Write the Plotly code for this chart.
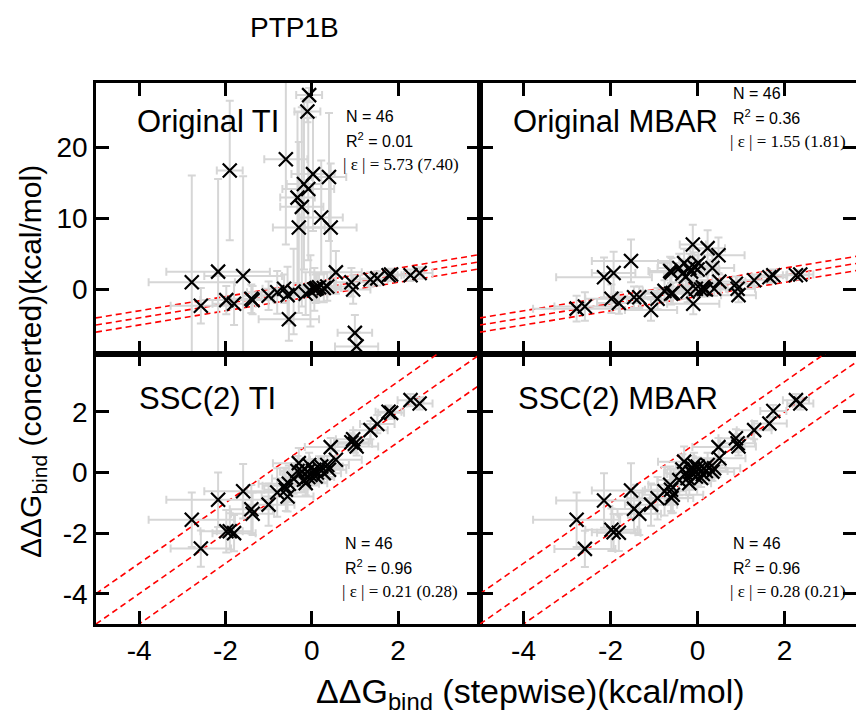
import plotly.graph_objects as go
from plotly.subplots import make_subplots

# ---------------- data ----------------
# TI column (stepwise TI on x)
x_ti = [-2.78, -2.57, -2.17, -1.98, -1.90, -1.80, -1.59, -1.40, -1.37, -1.00,
        -0.80, -0.64, -0.60, -0.56, -0.53, -0.42, -0.33, -0.30, -0.23, -0.18,
        -0.14, -0.10, -0.08, -0.06, -0.03, 0.03, 0.06, 0.09, 0.12, 0.17,
        0.22, 0.28, 0.36, 0.40, 0.44, 0.56, 0.92, 0.96, 1.00, 1.04,
        1.36, 1.52, 1.78, 1.84, 2.29, 2.50]
xerr_ti = [1.0, 0.7, 1.2, 0.6, 0.3, 0.5, 0.9, 0.5, 0.5, 0.6,
           0.7, 0.5, 0.5, 0.6, 0.7, 0.5, 0.4, 0.6, 0.5, 0.4,
           0.5, 0.3, 0.6, 0.3, 0.4, 0.5, 0.4, 0.3, 0.4, 0.5,
           0.5, 0.4, 0.5, 0.4, 0.6, 0.6, 0.4, 0.4, 0.4, 0.5,
           0.4, 0.4, 0.3, 0.3, 0.3, 0.3]
y_orig_ti = [1.0, -2.3, 2.5, -1.5, 16.7, -2.0, 1.9, -1.3, -1.5, -0.9,
             -0.4, 0.1, 18.3, -0.8, -4.2, -0.3, 12.9, 8.7, 11.6, 14.8,
             -0.6, 25.0, 14.1, 27.3, -0.2, 16.2, 0.0, 0.1, 0.2, 0.3,
             10.1, 0.2, 0.4, 15.8, 8.7, 2.4, 1.0, 0.0, -6.1, -8.0,
             1.4, 1.55, 2.0, 2.1, 2.0, 2.3]
yerr_orig_ti = [15.0, 2.5, 13.0, 2.0, 9.8, 3.0, 14.0, 2.0, 2.0, 2.0,
                3.0, 2.0, 12.0, 4.0, 3.0, 6.0, 12.0, 12.0, 14.0, 12.0,
                3.0, 1.5, 10.0, 1.0, 5.0, 8.0, 3.0, 2.0, 2.0, 2.0,
                8.0, 2.0, 2.0, 9.0, 9.0, 3.0, 2.0, 2.0, 2.5, 2.0,
                1.0, 1.0, 0.8, 0.8, 0.8, 0.8]
y_ssc_ti = [-1.56, -2.51, -0.90, -1.94, -1.94, -2.00, -0.62, -1.21, -1.36, -1.06,
            -0.66, -0.44, -0.57, -0.79, -0.37, -0.20, 0.05, 0.31, 0.03, -0.24,
            -0.35, 0.03, -0.15, 0.25, -0.08, 0.05, 0.09, -0.13, 0.00, 0.14,
            0.20, -0.02, 0.25, 0.09, 0.84, 0.42, 1.00, 1.10, 0.95, 0.86,
            1.40, 1.60, 2.01, 1.97, 2.39, 2.28]
yerr_ssc_ti = [0.9, 0.6, 0.9, 0.7, 0.6, 0.6, 0.9, 0.8, 0.7, 0.7,
               0.8, 0.6, 0.7, 0.5, 0.6, 0.5, 0.5, 0.5, 0.4, 0.4,
               0.4, 0.4, 0.4, 0.4, 0.3, 0.4, 0.3, 0.3, 0.3, 0.4,
               0.3, 0.3, 0.3, 0.3, 0.3, 0.3, 0.3, 0.3, 0.3, 0.3,
               0.3, 0.3, 0.2, 0.2, 0.2, 0.2]

# MBAR column (stepwise MBAR on x)
x_mb = [-2.78, -2.59, -2.15, -1.98, -1.93, -1.81, -1.53, -1.46, -1.34, -1.07,
        -0.92, -0.76, -0.63, -0.61, -0.60, -0.57, -0.42, -0.35, -0.31, -0.27,
        -0.23, -0.19, -0.15, -0.11, -0.10, -0.08, -0.04, 0.00, 0.02, 0.08,
        0.12, 0.15, 0.19, 0.23, 0.34, 0.38, 0.48, 0.50, 0.88, 0.92,
        0.94, 1.30, 1.65, 1.74, 2.26, 2.36]
xerr_mb = [1.0, 0.7, 1.1, 0.6, 0.5, 0.5, 0.9, 0.5, 0.5, 0.6,
           0.7, 0.5, 0.5, 0.6, 0.5, 0.7, 0.5, 0.4, 0.6, 0.5,
           0.4, 0.5, 0.4, 0.3, 0.6, 0.3, 0.4, 0.5, 0.4, 0.3,
           0.4, 0.5, 0.5, 0.4, 0.5, 0.6, 0.6, 0.6, 0.4, 0.4,
           0.4, 0.4, 0.4, 0.3, 0.3, 0.3]
y_orig_mb = [-2.7, -2.4, 1.7, -1.3, 2.3, -1.9, 4.0, -1.1, -1.1, -2.9,
             -1.3, -0.2, 2.6, -0.6, 2.4, -0.5, 3.0, 2.2, 3.7, 1.8,
             -0.3, 3.0, 2.5, 6.3, -2.0, 3.2, 0.1, 2.8, 3.7, 0.0,
             0.3, 0.1, 0.0, 5.8, 3.0, 0.1, 4.8, 1.1, 0.8, 0.1,
             -0.8, 1.3, 1.7, 2.0, 2.0, 2.1]
yerr_orig_mb = [1.8, 2.0, 2.8, 2.0, 3.0, 1.5, 3.0, 1.5, 1.5, 1.5,
                1.5, 1.5, 2.0, 1.5, 2.0, 1.5, 2.0, 2.0, 2.0, 2.0,
                1.5, 2.0, 2.0, 2.8, 1.5, 2.0, 1.0, 2.0, 2.0, 1.0,
                1.0, 1.0, 1.0, 2.5, 2.0, 1.0, 2.5, 1.0, 1.0, 1.0,
                1.0, 0.8, 0.8, 0.8, 0.6, 0.6]
y_ssc_mb = [-1.56, -2.52, -0.92, -1.89, -1.97, -1.99, -0.59, -1.20, -1.36, -1.06,
            -0.85, -0.62, -0.40, -0.57, -0.84, -0.73, -0.25, 0.10, 0.36, -0.02,
            -0.18, -0.35, 0.00, 0.14, -0.05, 0.25, -0.13, 0.20, 0.09, -0.18,
            -0.05, 0.14, 0.05, 0.25, 0.03, 0.14, 0.84, 0.47, 1.13, 0.97,
            0.86, 1.40, 1.62, 2.03, 2.39, 2.28]
yerr_ssc_mb = [0.9, 0.6, 0.9, 0.7, 0.6, 0.6, 0.9, 0.8, 0.7, 0.7,
               0.7, 0.8, 0.6, 0.7, 0.5, 0.6, 0.5, 0.5, 0.5, 0.4,
               0.4, 0.4, 0.4, 0.4, 0.3, 0.4, 0.3, 0.3, 0.3, 0.3,
               0.3, 0.3, 0.3, 0.4, 0.3, 0.3, 0.3, 0.3, 0.3, 0.3,
               0.3, 0.3, 0.2, 0.2, 0.2, 0.2]

panel_names = ["Original TI", "Original MBAR", "SSC(2) TI", "SSC(2) MBAR"]
stats_N = ["46", "46", "46", "46"]
stats_R2 = ["0.01", "0.36", "0.96", "0.96"]
stats_err = ["5.73 (7.40)", "1.55 (1.81)", "0.21 (0.28)", "0.28 (0.21)"]
ref_offsets = [-1.0, 0.0, 1.0]

x_ticks = [-4, -2, 0, 2]
y_ticks_top = [0, 10, 20]
y_ticks_bot = [-4, -2, 0, 2]

# ---------------- figure ----------------
W, H = 856, 721
ML, MR, MT, MB = 96, 0, 83, 97
PW, PH = W - ML - MR, H - MT - MB
fig = make_subplots(rows=2, cols=2, horizontal_spacing=0, vertical_spacing=0,
                    column_widths=[384, 376])

x_range_col = {1: [-5, 3.9], 2: [-5, 3.64]}
y_range_row = {1: [-9, 29], 2: [-5, 3.93]}

panels = [
    (1, 1, x_ti, xerr_ti, y_orig_ti, yerr_orig_ti),
    (1, 2, x_mb, xerr_mb, y_orig_mb, yerr_orig_mb),
    (2, 1, x_ti, xerr_ti, y_ssc_ti, yerr_ssc_ti),
    (2, 2, x_mb, xerr_mb, y_ssc_mb, yerr_ssc_mb),
]
gray = "rgb(214,214,214)"
for (r, c, xs, xe, ys, ye) in panels:
    xr = x_range_col[c]
    for off in ref_offsets:
        fig.add_trace(go.Scatter(x=xr, y=[xr[0] + off, xr[1] + off], mode="lines",
                                 line=dict(color="red", width=1.6, dash="6px,4px"),
                                 showlegend=False, hoverinfo="skip"), row=r, col=c)
    fig.add_trace(go.Scatter(
        x=xs, y=ys, mode="markers",
        marker=dict(symbol="x-thin-open", size=14, color="black",
                    line=dict(color="black", width=2.2)),
        error_x=dict(type="data", array=xe, color=gray, thickness=2, width=4),
        error_y=dict(type="data", array=ye, color=gray, thickness=2, width=4),
        showlegend=False), row=r, col=c)

axis_common = dict(showline=True, linecolor="black", linewidth=2.5, mirror="ticks",
                   ticks="inside", ticklen=13, tickwidth=2.5, tickcolor="black",
                   showgrid=False, zeroline=False, automargin=False,
                   tickfont=dict(family="Liberation Sans", size=28, color="black"))
for r in (1, 2):
    for c in (1, 2):
        fig.update_xaxes(range=x_range_col[c], tickvals=x_ticks,
                         ticktext=[str(v) for v in x_ticks],
                         showticklabels=(r == 2), row=r, col=c, **axis_common)
        yt = y_ticks_top if r == 1 else y_ticks_bot
        fig.update_yaxes(range=y_range_row[r], tickvals=yt,
                         ticktext=[str(v) for v in yt],
                         showticklabels=(c == 1), row=r, col=c, **axis_common)

# ---------------- annotations ----------------
def px2paper(px, py):
    return (px - ML) / PW, 1 - (py - MT) / PH

annos = []
def add_text(txt, px, py, size, family="Liberation Sans", xanchor="left", yanchor="middle", angle=0):
    xx, yy = px2paper(px, py)
    annos.append(dict(text=txt, x=xx, y=yy, xref="paper", yref="paper", showarrow=False,
                      xanchor=xanchor, yanchor=yanchor, textangle=angle,
                      font=dict(family=family, size=size, color="black")))

add_text("PTP1B", 294, 27, 28, xanchor="center")
label_pos = [(135, 121), (511, 121), (137, 398), (516, 398)]
stats_pos = [(344, 116), (731, 93), (343, 543), (731, 543)]
for i in range(4):
    lx, ly = label_pos[i]
    add_text(panel_names[i], lx, ly, 31)
    sx, sy = stats_pos[i]
    add_text("N = " + stats_N[i], sx, sy, 16)
    add_text("R<sup>2</sup> = " + stats_R2[i], sx, sy + 24, 16)
    add_text("| ε | = " + stats_err[i], sx - 3, sy + 48, 17, family="Liberation Serif")

add_text("ΔΔG<sub>bind</sub> (stepwise)(kcal/mol)", 530, 693, 34, xanchor="center")
add_text("ΔΔG<sub>bind</sub> (concerted)(kcal/mol)", 32, 362, 30, xanchor="center", angle=-90)

fig.update_layout(width=W, height=H, margin=dict(l=ML, r=MR, t=MT, b=MB),
                  plot_bgcolor="white", paper_bgcolor="white",
                  annotations=annos, showlegend=False)

fig.write_html("out.html", config={"displayModeBar": False},
               post_script="document.body.style.margin='0px';document.body.style.padding='0px';")
